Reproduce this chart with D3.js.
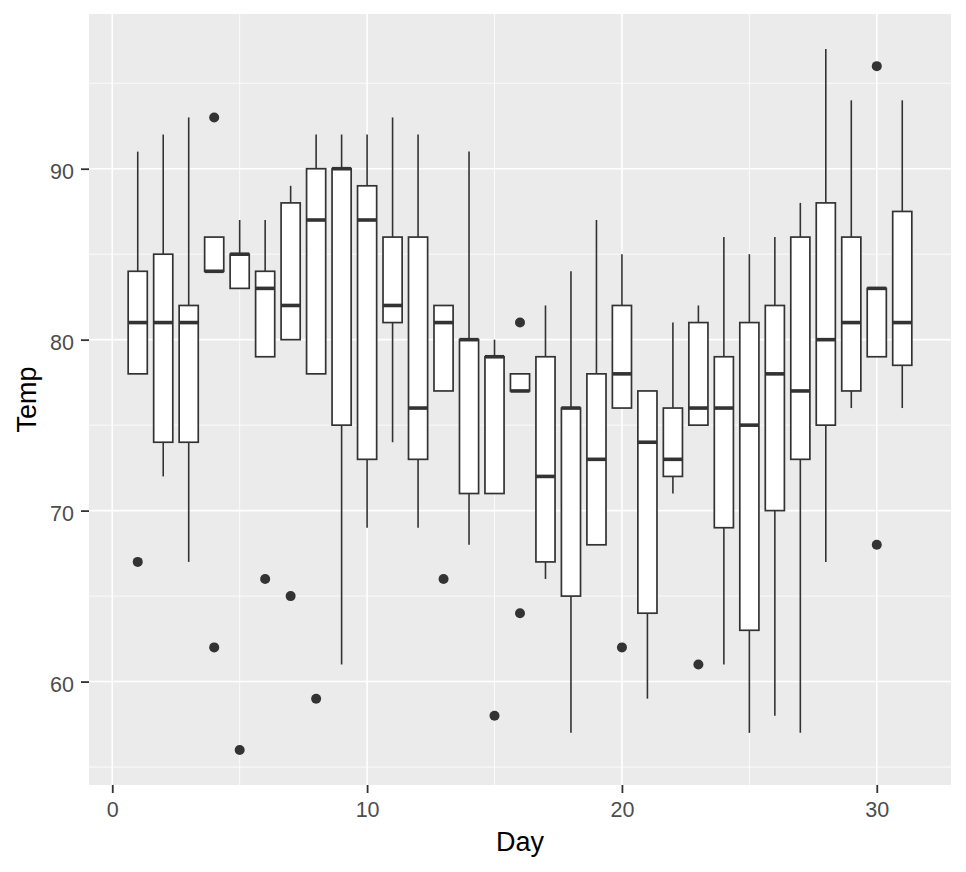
<!DOCTYPE html>
<html>
<head>
<meta charset="utf-8">
<script src="https://cdn.jsdelivr.net/npm/d3@7"></script>
<style>
  html, body { margin: 0; padding: 0; background: #ffffff; }
  svg { display: block; }
</style>
</head>
<body>
<svg id="chart" width="966" height="872"></svg>
<script>
// Box statistics for Temp grouped by Day
const days      = [1,2,3,4,5,6,7,8,9,10,11,12,13,14,15,16,17,18,19,20,21,22,23,24,25,26,27,28,29,30,31];
const lowerWhisker = [78,72,67,84,83,79,80,78,61,69,74,69,77,68,71,77,66,57,68,76,59,71,75,61,57,58,57,67,76,79,76];
const q1        = [78,74,74,84,83,79,80,78,75,73,81,73,77,71,71,77,67,65,68,76,64,72,75,69,63,70,73,75,77,79,78.5];
const medians   = [81,81,81,84,85,83,82,87,90,87,82,76,81,80,79,77,72,76,73,78,74,73,76,76,75,78,77,80,81,83,81];
const q3        = [84,85,82,86,85,84,88,90,90,89,86,86,82,80,79,78,79,76,78,82,77,76,81,79,81,82,86,88,86,83,87.5];
const upperWhisker = [91,92,93,86,87,87,89,92,92,92,93,92,82,91,80,78,82,84,87,85,77,81,82,86,85,86,88,97,94,83,94];
const outlierDays  = [1,4,4,5,6,7,8,13,15,16,16,20,23,30,30];
const outlierTemps = [67,62,93,56,66,65,59,66,58,64,81,62,61,68,96];
const xTicks = [0,10,20,30];
const yTicks = [60,70,80,90];
const xMinor = [5,15,25];
const yMinor = [55,65,75,85,95];

const svg = d3.select("#chart");
const panel = {left: 89, right: 951, top: 14, bottom: 785};
const boxWidth = 0.75;

const x = d3.scaleLinear().domain([-0.9125, 32.9125]).range([panel.left, panel.right]);
const y = d3.scaleLinear().domain([53.95, 99.05]).range([panel.bottom, panel.top]);

// panel background
svg.append("rect")
  .attr("x", panel.left).attr("y", panel.top)
  .attr("width", panel.right - panel.left).attr("height", panel.bottom - panel.top)
  .attr("fill", "#EBEBEB");

const grid = svg.append("g");
grid.selectAll(".ymin").data(yMinor).enter().append("line")
  .attr("x1", panel.left).attr("x2", panel.right)
  .attr("y1", d => y(d)).attr("y2", d => y(d))
  .attr("stroke", "#ffffff").attr("stroke-width", 0.8);
grid.selectAll(".xmin").data(xMinor).enter().append("line")
  .attr("y1", panel.top).attr("y2", panel.bottom)
  .attr("x1", d => x(d)).attr("x2", d => x(d))
  .attr("stroke", "#ffffff").attr("stroke-width", 0.8);
grid.selectAll(".ymaj").data(yTicks).enter().append("line")
  .attr("x1", panel.left).attr("x2", panel.right)
  .attr("y1", d => y(d)).attr("y2", d => y(d))
  .attr("stroke", "#ffffff").attr("stroke-width", 1.6);
grid.selectAll(".xmaj").data(xTicks).enter().append("line")
  .attr("y1", panel.top).attr("y2", panel.bottom)
  .attr("x1", d => x(d)).attr("x2", d => x(d))
  .attr("stroke", "#ffffff").attr("stroke-width", 1.6);

const data = days.map((d, i) => ({
  day: d, lo: lowerWhisker[i], q1: q1[i], med: medians[i], q3: q3[i], hi: upperWhisker[i]
}));

const ink = "#333333";
const g = svg.append("g");
// whiskers
g.selectAll(".wlo").data(data).enter().append("line")
  .attr("x1", d => x(d.day)).attr("x2", d => x(d.day))
  .attr("y1", d => y(d.lo)).attr("y2", d => y(d.q1))
  .attr("stroke", ink).attr("stroke-width", 1.6);
g.selectAll(".whi").data(data).enter().append("line")
  .attr("x1", d => x(d.day)).attr("x2", d => x(d.day))
  .attr("y1", d => y(d.q3)).attr("y2", d => y(d.hi))
  .attr("stroke", ink).attr("stroke-width", 1.6);
// boxes
g.selectAll(".box").data(data).enter().append("rect")
  .attr("x", d => x(d.day - boxWidth / 2))
  .attr("width", d => x(d.day + boxWidth / 2) - x(d.day - boxWidth / 2))
  .attr("y", d => y(d.q3))
  .attr("height", d => y(d.q1) - y(d.q3))
  .attr("fill", "#ffffff").attr("stroke", ink).attr("stroke-width", 1.7);
// medians
g.selectAll(".med").data(data).enter().append("line")
  .attr("x1", d => x(d.day - boxWidth / 2)).attr("x2", d => x(d.day + boxWidth / 2))
  .attr("y1", d => y(d.med)).attr("y2", d => y(d.med))
  .attr("stroke", ink).attr("stroke-width", 3.6);
// outliers
g.selectAll(".out").data(outlierDays.map((d, i) => ({day: d, t: outlierTemps[i]}))).enter().append("circle")
  .attr("cx", d => x(d.day)).attr("cy", d => y(d.t))
  .attr("r", 5).attr("fill", ink);

// axes
const font = "'Liberation Sans', Arial, sans-serif";
const xAxis = svg.append("g").attr("transform", `translate(0,${panel.bottom})`)
  .call(d3.axisBottom(x).tickValues(xTicks).tickSize(8).tickPadding(9).tickFormat(d3.format("d")));
const yAxis = svg.append("g").attr("transform", `translate(${panel.left},0)`)
  .call(d3.axisLeft(y).tickValues(yTicks).tickSize(8).tickPadding(7).tickFormat(d3.format("d")));
[xAxis, yAxis].forEach(a => {
  a.select(".domain").remove();
  a.selectAll(".tick line").attr("stroke", ink).attr("stroke-width", 1.8);
  a.selectAll(".tick text").attr("fill", "#4D4D4D").style("font-family", font).style("font-size", "21.5px");
});
yAxis.selectAll(".tick text").attr("dy", "0.45em");

svg.append("text")
  .attr("x", (panel.left + panel.right) / 2).attr("y", 851)
  .attr("text-anchor", "middle")
  .style("font-family", font).style("font-size", "27px").attr("fill", "#000")
  .text("Day");
svg.append("text")
  .attr("transform", `translate(36,${(panel.top + panel.bottom) / 2}) rotate(-90)`)
  .attr("text-anchor", "middle")
  .style("font-family", font).style("font-size", "27px").attr("fill", "#000")
  .text("Temp");
</script>
</body>
</html>
